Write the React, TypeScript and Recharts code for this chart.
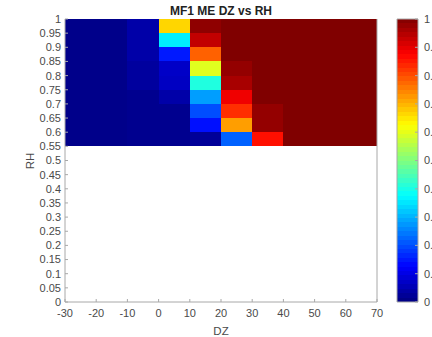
import React from "react";
import {
  ComposedChart,
  XAxis,
  YAxis,
  ReferenceArea,
} from "recharts";

// DZ bin edges (10 columns) and RH bin edges (9 rows, 0.55..1)
const dzEdges = [-30, -20, -10, 0, 10, 20, 30, 40, 50, 60, 70];
const rhEdges = [0.55, 0.6, 0.65, 0.7, 0.75, 0.8, 0.85, 0.9, 0.95, 1];

// ME values per RH row, top row first (0.95-1 down to 0.55-0.6)
const meRows = [
  [0.01, 0.01, 0.04, 0.665, 0.985, 1, 1, 1, 1, 1],
  [0.01, 0.01, 0.04, 0.36, 0.935, 1, 1, 1, 1, 1],
  [0.01, 0.01, 0.04, 0.15, 0.78, 1, 1, 1, 1, 1],
  [0.01, 0.01, 0.03, 0.07, 0.595, 0.98, 1, 1, 1, 1],
  [0.01, 0.01, 0.03, 0.065, 0.405, 0.96, 1, 1, 1, 1],
  [0.01, 0.01, 0.015, 0.04, 0.28, 0.89, 1, 1, 1, 1],
  [0.01, 0.01, 0.015, 0.015, 0.2, 0.83, 0.98, 1, 1, 1],
  [0.01, 0.01, 0.015, 0.015, 0.14, 0.72, 0.98, 1, 1, 1],
  [0.01, 0.01, 0.015, 0.015, 0.025, 0.22, 0.86, 1, 1, 1],
];

const dzTicks = [-30, -20, -10, 0, 10, 20, 30, 40, 50, 60, 70];
const rhTicks = [
  0, 0.05, 0.1, 0.15, 0.2, 0.25, 0.3, 0.35, 0.4, 0.45, 0.5, 0.55, 0.6, 0.65,
  0.7, 0.75, 0.8, 0.85, 0.9, 0.95, 1,
];
const cbarTicks = [0, 0.1, 0.2, 0.3, 0.4, 0.5, 0.6, 0.7, 0.8, 0.9, 1];

const W = 432;
const H = 337;
const FONT = "'Liberation Sans', Arial, sans-serif";
const TEXT = "#4a4a4a";
const AXIS = "#a8a8a8";

// MATLAB-style jet colormap
function jet(v: number) {
  const c = (x: number) => Math.round(Math.max(0, Math.min(1, x)) * 255);
  const r = c(Math.min(4 * v - 1.5, -4 * v + 4.5));
  const g = c(Math.min(4 * v - 0.5, -4 * v + 3.5));
  const b = c(Math.min(4 * v + 0.5, -4 * v + 2.5));
  return `rgb(${r},${g},${b})`;
}

// 64 colour levels of the colorbar
const cbarLevels = Array.from({ length: 64 }, (_, i) => i);

const tickStyle = { fill: TEXT, fontSize: 11, fontFamily: FONT };

function Heatmap() {
  const nRows = rhEdges.length - 1;
  return (
    <ComposedChart
      width={W}
      height={H}
      margin={{ top: 19, right: 54, bottom: 5, left: 25 }}
    >
      <XAxis
        type="number"
        dataKey="x"
        domain={[-30, 70]}
        ticks={dzTicks}
        interval={0}
        height={30}
        tickSize={-3}
        tickMargin={10}
        tick={tickStyle}
        stroke={AXIS}
        allowDataOverflow
      />
      <YAxis
        type="number"
        domain={[0, 1]}
        ticks={rhTicks}
        interval={0}
        width={40}
        tickSize={-3}
        tickMargin={7}
        tick={tickStyle}
        tickFormatter={(v: number) => String(v)}
        stroke={AXIS}
        allowDataOverflow
      />
      <YAxis
        yAxisId="r"
        orientation="right"
        type="number"
        domain={[0, 1]}
        ticks={rhTicks}
        interval={0}
        width={1}
        tickSize={-3}
        tickFormatter={() => ""}
        stroke={AXIS}
      />
      {meRows.map((row, r) =>
        row.map((v, c) => {
          const fill = jet(v);
          return (
            <ReferenceArea
              key={`${r}-${c}`}
              x1={dzEdges[c]}
              x2={dzEdges[c + 1]}
              y1={rhEdges[nRows - 1 - r]}
              y2={rhEdges[nRows - r]}
              fill={fill}
              fillOpacity={1}
              stroke="none"
              shapeRendering="crispEdges"
              ifOverflow="visible"
            />
          );
        })
      )}
    </ComposedChart>
  );
}

function ColorBar() {
  return (
    <ComposedChart
      width={W}
      height={H}
      margin={{ top: 19, right: 0, bottom: 5, left: 397 }}
    >
      <XAxis
        type="number"
        dataKey="x"
        domain={[0, 1]}
        height={30}
        tick={false}
        tickLine={false}
        axisLine={false}
        allowDataOverflow
      />
      <YAxis
        orientation="right"
        type="number"
        domain={[0, 1]}
        ticks={cbarTicks}
        interval={0}
        width={14}
        tickSize={-3}
        tickMargin={9}
        tick={tickStyle}
        axisLine={false}
        stroke={AXIS}
        allowDataOverflow
      />
      {cbarLevels.map((i) => (
        <ReferenceArea
          key={i}
          x1={0}
          x2={1}
          y1={i / 64}
          y2={(i + 1) / 64}
          fill={jet((i + 0.5) / 64)}
          fillOpacity={1}
          stroke="none"
          shapeRendering="crispEdges"
          ifOverflow="visible"
        />
      ))}
      <ReferenceArea
        x1={0}
        x2={1}
        y1={0}
        y2={1}
        fill="none"
        stroke={AXIS}
        strokeWidth={1}
        ifOverflow="visible"
      />
    </ComposedChart>
  );
}

export default function App() {
  const layer: React.CSSProperties = { position: "absolute", left: 0, top: 0 };
  return (
    <div
      style={{
        position: "absolute",
        left: 0,
        top: 0,
        width: W,
        height: H,
        background: "#fff",
        overflow: "hidden",
      }}
    >
      <div style={layer}>
        <Heatmap />
      </div>
      <div style={layer}>
        <ColorBar />
      </div>
      <svg width={W} height={H} style={{ ...layer, pointerEvents: "none" }}>
        <text
          x={221}
          y={15}
          textAnchor="middle"
          fontFamily={FONT}
          fontSize={12}
          fontWeight="bold"
          fill="#222"
        >
          MF1 ME DZ vs RH
        </text>
        <text
          x={221}
          y={335}
          textAnchor="middle"
          fontFamily={FONT}
          fontSize={11.5}
          fill={TEXT}
        >
          DZ
        </text>
        <text
          x={34}
          y={161}
          textAnchor="middle"
          fontFamily={FONT}
          fontSize={11.5}
          fill={TEXT}
          transform="rotate(-90 34 161)"
        >
          RH
        </text>
      </svg>
    </div>
  );
}
